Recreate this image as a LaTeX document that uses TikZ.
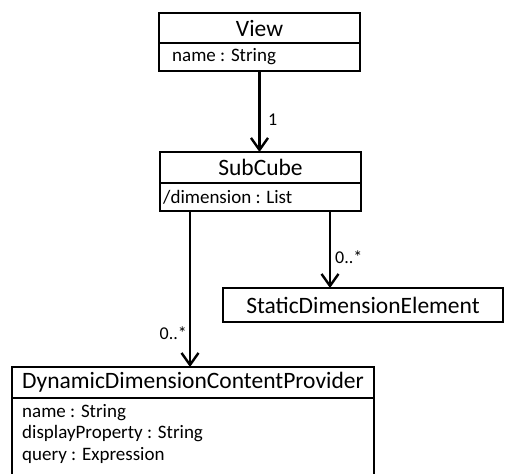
\documentclass[tikz,border=0pt]{standalone}
\usepackage{fontspec}
\setmainfont{Carlito}
\usetikzlibrary{arrows.meta,calc}
\tikzset{
 box/.style={draw, line width=2.6pt, inner sep=0pt, outer sep=0pt, anchor=north west},
 ttl/.style={font=\fontsize{23.5}{26}\selectfont},
 attr/.style={font=\fontsize{19}{22}\selectfont, anchor=west, inner sep=0pt},
 assoc/.style={line width=2.4pt, -{Straight Barb[length=12pt,width=17pt,line width=2.4pt]}},
 mult/.style={font=\fontsize{18}{20}\selectfont, inner sep=0pt},
}
\begin{document}
\begin{tikzpicture}[x=1pt,y=-1pt]
\useasboundingbox (0,0) rectangle (507,474);
\clip (0,0) rectangle (507,474);
% View
\node[box, ttl, minimum width=201pt, minimum height=30pt] (view) at (159,13) {View};
\node[box, minimum width=201pt, minimum height=28pt] (viewa) at (view.south west) {};
\node[attr] (viewn) at ($(viewa.west)+(13,0)$) {name : String};
% SubCube
\node[box, ttl, minimum width=201pt, minimum height=31pt] (sc) at (160,152) {SubCube};
\node[box, minimum width=201pt, minimum height=28pt] (sca) at (sc.south west) {};
\node[attr] (scd) at ($(sca.west)+(3,0)$) {/dimension : List};
% Static
\node[box, ttl, minimum width=280pt, minimum height=34pt] (st) at (223,288) {StaticDimensionElement};
% DDCP
\node[box, ttl, minimum width=362pt, minimum height=31pt] (dd) at (12,367) {DynamicDimensionContentProvider};
\node[box, minimum width=362pt, minimum height=110pt] (dda) at (dd.south west) {};
\node[attr] (dd1) at (22,413) {name : String};
\node[attr] (dd2) at (22,434) {displayProperty : String};
\node[attr] (dd3) at (22,455) {query : Expression};
% connectors
\draw[assoc] (viewa.south) -- (viewa.south |- sc.north);
\draw[assoc] ($(sca.south west)+(30,0)$) coordinate (p1) -- (p1 |- dd.north);
\draw[assoc] ($(sca.south west)+(170,0)$) coordinate (p2) -- (p2 |- st.north);
\node[mult, anchor=west] (m1) at (268,120) {1};
\node[mult, anchor=east] (m2) at (187,333) {0..*};
\node[mult, anchor=west] (m3) at (335,257) {0..*};
\end{tikzpicture}
\end{document}
